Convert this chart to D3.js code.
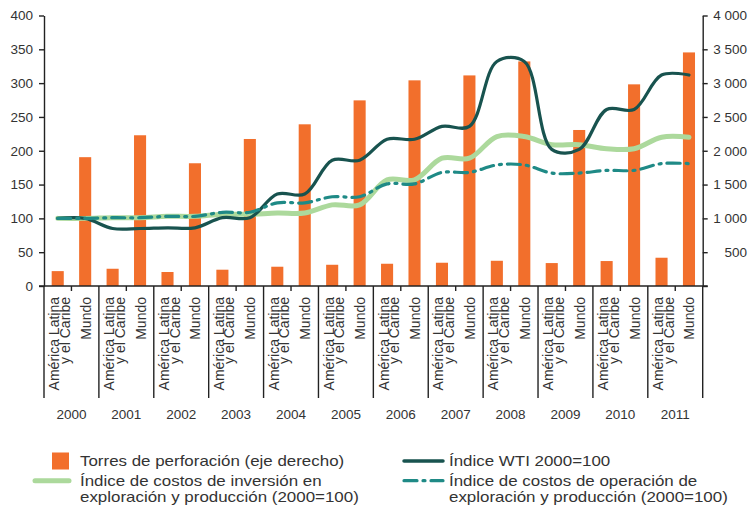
<!DOCTYPE html>
<html>
<head>
<meta charset="utf-8">
<script src="https://cdn.jsdelivr.net/npm/d3@7"></script>
<style>
  body { margin: 0; background: #fff; }
  text { font-family: "Liberation Sans", Arial, sans-serif; fill: #333; }
</style>
</head>
<body>
<svg id="chart"></svg>
<script>
// Chart data
var years = ["2000", "2001", "2002", "2003", "2004", "2005", "2006", "2007", "2008", "2009", "2010", "2011"];
var regions = ["América Latina|y el Caribe", "Mundo"];

// Drilling rigs (right axis)
var rigsLatAm = [220, 255, 207, 241, 285, 314, 329, 344, 373, 339, 369, 418];
var rigsWorld = [1905, 2229, 1815, 2174, 2391, 2745, 3041, 3114, 3321, 2307, 2982, 3454];

// Indexes 2000=100 (left axis)
var wtiIndex = [100, 85, 86, 101, 136, 186, 217, 236, 332, 202, 261, 312];
var investIndex = [100, 101, 103, 106, 108, 120, 157, 189, 221, 209, 203, 220];
var operIndex = [100, 101, 103, 109, 123, 132, 151, 168, 179, 167, 171, 181];

var leftTicks = [0, 50, 100, 150, 200, 250, 300, 350, 400];
var rightTicks = [0, 500, 1000, 1500, 2000, 2500, 3000, 3500, 4000];
var rightTickLabels = ["", "500", "1 000", "1 500", "2 000", "2 500", "3 000", "3 500", "4 000"];

var legendBars = "Torres de perforación (eje derecho)";
var legendWti = "Índice WTI 2000=100";
var legendInvest = ["Índice de costos de inversión en", "exploración y producción (2000=100)"];
var legendOper = ["Índice de costos de operación de", "exploración y producción (2000=100)"];

// SVG size and plot area
var svgWidth = 748;
var svgHeight = 505;
var plotLeft = 44;
var plotRight = 702.7;
var plotTop = 15.5;
var plotBottom = 286;
var dividerBottom = 398;

var svg = d3.select("#chart")
  .attr("width", svgWidth)
  .attr("height", svgHeight);

// one category per year and region
var keys = [];
years.forEach(function (y) {
  keys.push(y + "-0");
  keys.push(y + "-1");
});

var xBand = d3.scaleBand()
  .domain(keys)
  .range([plotLeft, plotRight])
  .paddingInner(0.56)
  .paddingOuter(0.28);

var yearBand = d3.scaleBand()
  .domain(years)
  .range([plotLeft, plotRight]);

var yLeft = d3.scaleLinear().domain([0, 400]).range([plotBottom, plotTop]);
var yRight = d3.scaleLinear().domain([0, 4000]).range([plotBottom, plotTop]);

function xCenter(key) {
  return xBand(key) + xBand.bandwidth() / 2;
}

// Bars
var barData = [];
years.forEach(function (y, i) {
  barData.push({ key: y + "-0", value: rigsLatAm[i] });
  barData.push({ key: y + "-1", value: rigsWorld[i] });
});

svg.append("g")
  .selectAll("rect")
  .data(barData)
  .enter()
  .append("rect")
  .attr("x", function (d) { return xBand(d.key); })
  .attr("width", xBand.bandwidth())
  .attr("y", function (d) { return yRight(d.value); })
  .attr("height", function (d) { return plotBottom - yRight(d.value); })
  .attr("fill", "#f26f2c");

// Lines: each year's value sits on both of its categories
function linePoints(values) {
  var pts = [];
  years.forEach(function (y, i) {
    pts.push({ key: y + "-0", value: values[i] });
    pts.push({ key: y + "-1", value: values[i] });
  });
  return pts;
}

var line = d3.line()
  .x(function (d) { return xCenter(d.key); })
  .y(function (d) { return yLeft(d.value); })
  .curve(d3.curveCatmullRom);

svg.append("path")
  .attr("d", line(linePoints(investIndex)))
  .attr("fill", "none")
  .attr("stroke", "#acd99c")
  .attr("stroke-width", 5)
  .attr("stroke-linecap", "round");

svg.append("path")
  .attr("d", line(linePoints(wtiIndex)))
  .attr("fill", "none")
  .attr("stroke", "#18534f")
  .attr("stroke-width", 3.2)
  .attr("stroke-linecap", "round");

svg.append("path")
  .attr("d", line(linePoints(operIndex)))
  .attr("fill", "none")
  .attr("stroke", "#1f8a86")
  .attr("stroke-width", 3.2)
  .attr("stroke-dasharray", "13,6,2,6")
  .attr("stroke-linecap", "round");

// Left axis
var yAxisLeft = d3.axisLeft(yLeft)
  .tickValues(leftTicks)
  .tickSize(5)
  .tickSizeOuter(0)
  .tickPadding(6);

var gLeft = svg.append("g")
  .attr("transform", "translate(" + plotLeft + ",0)")
  .call(yAxisLeft);

// Right axis
var yAxisRight = d3.axisRight(yRight)
  .tickValues(rightTicks)
  .tickSize(5)
  .tickSizeOuter(0)
  .tickFormat(function (d, i) { return rightTickLabels[i]; });

var gRight = svg.append("g")
  .attr("transform", "translate(" + plotRight + ",0)")
  .call(yAxisRight);

gRight.selectAll("text")
  .attr("x", svgWidth - 1 - plotRight)
  .attr("text-anchor", "end");

[gLeft, gRight].forEach(function (g) {
  g.selectAll("path, line").attr("stroke", "#222").attr("stroke-width", 1.4);
  g.selectAll("text")
    .style("font-family", "'Liberation Sans', Arial, sans-serif")
    .style("font-size", "13.5px")
    .attr("fill", "#333");
});

// X axis line, year dividers and mid-year ticks
var xAxisG = svg.append("g");

xAxisG.append("line")
  .attr("x1", plotLeft - 5)
  .attr("x2", plotRight + 5)
  .attr("y1", plotBottom)
  .attr("y2", plotBottom)
  .attr("stroke", "#222")
  .attr("stroke-width", 1.4);

var boundaries = years.map(function (y) { return yearBand(y); }).concat([plotRight]);

xAxisG.selectAll(".divider")
  .data(boundaries)
  .enter()
  .append("line")
  .attr("class", "divider")
  .attr("x1", function (d) { return d; })
  .attr("x2", function (d) { return d; })
  .attr("y1", plotBottom)
  .attr("y2", dividerBottom)
  .attr("stroke", "#222")
  .attr("stroke-width", 1.4);

xAxisG.selectAll(".midtick")
  .data(years)
  .enter()
  .append("line")
  .attr("class", "midtick")
  .attr("x1", function (d) { return yearBand(d) + yearBand.bandwidth() / 2; })
  .attr("x2", function (d) { return yearBand(d) + yearBand.bandwidth() / 2; })
  .attr("y1", plotBottom)
  .attr("y2", plotBottom + 5)
  .attr("stroke", "#222")
  .attr("stroke-width", 1.4);

// Rotated region labels
var labelData = [];
years.forEach(function (y) {
  labelData.push({ key: y + "-0", lines: regions[0].split("|") });
  labelData.push({ key: y + "-1", lines: regions[1].split("|") });
});

var catLabels = xAxisG.selectAll(".catLabel")
  .data(labelData)
  .enter()
  .append("text")
  .attr("class", "catLabel")
  .attr("text-anchor", "end")
  .style("font-size", "14px")
  .attr("transform", function (d) {
    var shift = d.lines.length > 1 ? 1.5 : 5.5;
    return "translate(" + (xCenter(d.key) + shift) + "," + (plotBottom + 11) + ") rotate(-90)";
  });

catLabels.each(function (d) {
  var t = d3.select(this);
  d.lines.forEach(function (txt, i) {
    t.append("tspan")
      .attr("x", 0)
      .attr("y", i * 10.5)
      .text(txt);
  });
});

// Year labels
xAxisG.selectAll(".yearLabel")
  .data(years)
  .enter()
  .append("text")
  .attr("class", "yearLabel")
  .attr("x", function (d) { return yearBand(d) + yearBand.bandwidth() / 2; })
  .attr("y", 419)
  .attr("text-anchor", "middle")
  .style("font-size", "13.5px")
  .text(function (d) { return d; });

// Legend (text is a little wide in the original, so it is stretched horizontally)
var legend = svg.append("g").style("font-size", "14px");

function legendText(x, y, txt) {
  legend.append("text")
    .attr("transform", "translate(" + x + "," + y + ") scale(1.21,1)")
    .text(txt);
}

legend.append("rect")
  .attr("x", 52).attr("y", 452.5)
  .attr("width", 17).attr("height", 17)
  .attr("fill", "#f26f2c");
legendText(80, 466, legendBars);

legend.append("line")
  .attr("x1", 35).attr("x2", 69).attr("y1", 480.7).attr("y2", 480.7)
  .attr("stroke", "#acd99c").attr("stroke-width", 5).attr("stroke-linecap", "round");
legendInvest.forEach(function (txt, i) {
  legendText(80, 486 + i * 16, txt);
});

legend.append("line")
  .attr("x1", 404).attr("x2", 443).attr("y1", 461).attr("y2", 461)
  .attr("stroke", "#18534f").attr("stroke-width", 3.5).attr("stroke-linecap", "round");
legendText(449, 466, legendWti);

legend.append("line")
  .attr("x1", 404).attr("x2", 443).attr("y1", 480.7).attr("y2", 480.7)
  .attr("stroke", "#1f8a86").attr("stroke-width", 3.2)
  .attr("stroke-dasharray", "13,6,2,6").attr("stroke-linecap", "round");
legendOper.forEach(function (txt, i) {
  legendText(449, 486 + i * 16, txt);
});
</script>
</body>
</html>
